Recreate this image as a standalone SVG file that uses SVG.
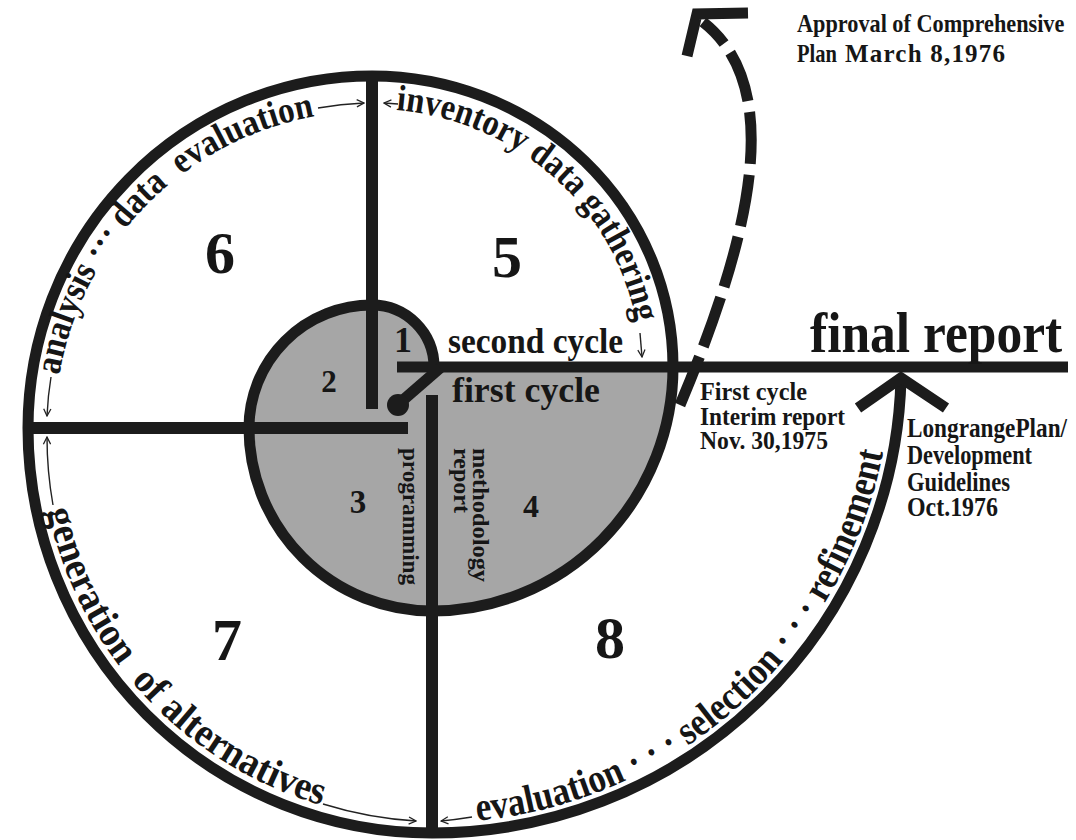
<svg xmlns="http://www.w3.org/2000/svg" width="1076" height="840" viewBox="0 0 1076 840">
<defs>
<style>
.ln{fill:none;stroke:#1c1c1c;stroke-width:11;stroke-linecap:butt;stroke-linejoin:miter}
.dv{fill:none;stroke:#1c1c1c;stroke-width:12}
.thin{fill:none;stroke:#222;stroke-width:1.4;marker-end:url(#ah)}
text{font-family:"Liberation Serif","Times New Roman",serif;font-weight:bold;fill:#161616}
.big{font-size:60px;text-anchor:middle}
.mid{text-anchor:middle}
</style>
<marker id="ah" viewBox="0 0 10 10" refX="9" refY="5" markerWidth="9" markerHeight="9" markerUnits="userSpaceOnUse" orient="auto">
<path d="M1,1 L9,5 L1,9" fill="none" stroke="#222" stroke-width="1.4"/>
</marker>
<path id="p6" d="M 55 428 A 317 317 0 0 1 372 111"/>
<path id="p5" d="M 372 109 A 268 258 0 0 1 640 367"/>
<path id="p7" d="M 39 428 A 393 393 0 0 0 432 821"/>
<path id="p8" d="M 432 823 A 459 456 0 0 0 891 367"/>
</defs>
<rect width="1076" height="840" fill="#ffffff"/>

<g id="first-cycle-area">
<path d="M372,305 A62,62 0 0 1 434,367 L673,367 A241,244 0 0 1 432,611 A183,183 0 0 1 249,428 A123,123 0 0 1 372,305 Z" fill="#a6a6a6"/>
</g>

<g id="connectors">
<path id="spiral" class="ln" d="M 434 367 A 62 62 0 0 0 372 305 A 123 123 0 0 0 249 428 A 183 183 0 0 0 432 611 A 241 244 0 0 0 673 367 A 301 291 0 0 0 372 76 A 344 352 0 0 0 28 428 A 404 405 0 0 0 432 833 A 469 466 0 0 0 901 378"/>
<path class="dv" d="M 372 76 L 372 409"/>
<path class="dv" d="M 28 428 L 408 428"/>
<path class="dv" d="M 432 395 L 432 833"/>
<path class="ln" d="M 397 367 L 1068 367"/>
<path class="ln" d="M 440 368 L 402 401"/>
<circle cx="398" cy="405" r="11" fill="#1c1c1c"/>
<polyline class="ln" points="858,408 901,378 946,408"/>
<path class="ln" d="M 680 405 C 745 250 790 90 703 22" stroke-dasharray="52 11"/>
<polyline class="ln" points="748,13 697,14 687,56"/>
<path class="thin" d="M 318 108 A 325 325 0 0 1 364 103"/>
<path class="thin" d="M 398 104 L 384 103"/>
<path class="thin" d="M 640 333 L 642 357"/>
<path class="thin" d="M 51 377 A 325 325 0 0 0 47 416"/>
<path class="thin" d="M 53 505 A 386 386 0 0 1 47 437"/>
<path class="thin" d="M 323 804 A 394 394 0 0 0 416 821"/>
<path class="thin" d="M 472 817 A 459 456 0 0 1 441 821"/>
</g>

<g id="phase-1"><text class="mid" x="403" y="352" font-size="36">1</text></g>
<g id="phase-2"><text class="mid" x="329" y="392" font-size="31">2</text></g>
<g id="phase-3"><text class="mid" x="358" y="513" font-size="33">3</text>
<text transform="translate(403,448) rotate(90)" font-size="23" textLength="137" lengthAdjust="spacingAndGlyphs">programming</text></g>
<g id="phase-4"><text class="mid" x="531" y="517" font-size="32">4</text>
<text transform="translate(473,448) rotate(90)" font-size="23" textLength="134" lengthAdjust="spacingAndGlyphs">methodology</text>
<text transform="translate(454,448) rotate(90)" font-size="23" textLength="65" lengthAdjust="spacingAndGlyphs">report</text></g>

<g id="phase-5"><text class="big" x="507" y="277">5</text>
<text font-size="37"><textPath href="#p5" startOffset="24" textLength="344" lengthAdjust="spacingAndGlyphs">inventory data gathering</textPath></text></g>

<g id="phase-6"><text class="big" x="220" y="273">6</text>
<text font-size="37"><textPath href="#p6" startOffset="53" textLength="387" lengthAdjust="spacingAndGlyphs">analysis&#160;···&#160;data&#160;&#160;evaluation</textPath></text></g>

<g id="phase-7"><text class="big" x="227" y="660">7</text>
<text font-size="40"><textPath href="#p7" startOffset="83" textLength="422" lengthAdjust="spacingAndGlyphs">generation&#160;&#160;of&#160;alternatives</textPath></text></g>

<g id="phase-8"><text class="big" x="610" y="658">8</text>
<text font-size="40"><textPath href="#p8" startOffset="45" textLength="588" lengthAdjust="spacingAndGlyphs">evaluation&#160;·&#160;·&#160;·&#160;selection&#160;·&#160;·&#160;·&#160;refinement</textPath></text></g>

<g id="cycle-labels">
<text x="448" y="353" font-size="36" textLength="175" lengthAdjust="spacingAndGlyphs">second cycle</text>
<text x="452" y="402" font-size="36" textLength="148" lengthAdjust="spacingAndGlyphs">first cycle</text>
</g>

<g id="final-report"><text transform="translate(810,352) scale(0.92,1)" font-size="56">final report</text></g>

<g id="interim-report">
<text x="700" y="400" font-size="25" textLength="107" lengthAdjust="spacingAndGlyphs">First cycle</text>
<text x="700" y="425" font-size="25" textLength="145" lengthAdjust="spacingAndGlyphs">Interim report</text>
<text x="700" y="449" font-size="25" textLength="128" lengthAdjust="spacingAndGlyphs">Nov. 30,1975</text>
</g>

<g id="longrange-plan">
<text transform="translate(907,437) scale(0.83,1)" font-size="28">LongrangePlan/</text>
<text x="907" y="464" font-size="28" textLength="125" lengthAdjust="spacingAndGlyphs">Development</text>
<text x="907" y="491" font-size="28" textLength="103" lengthAdjust="spacingAndGlyphs">Guidelines</text>
<text x="907" y="516" font-size="28" textLength="91" lengthAdjust="spacingAndGlyphs">Oct.1976</text>
</g>

<g id="approval">
<text transform="translate(797,32) scale(0.89,1)" font-size="25">Approval of Comprehensive</text>
<text x="797" y="62" font-size="25" textLength="40" lengthAdjust="spacingAndGlyphs">Plan</text>
<text x="845" y="62" font-size="25" textLength="160" lengthAdjust="spacing">March 8,1976</text>
</g>
</svg>
